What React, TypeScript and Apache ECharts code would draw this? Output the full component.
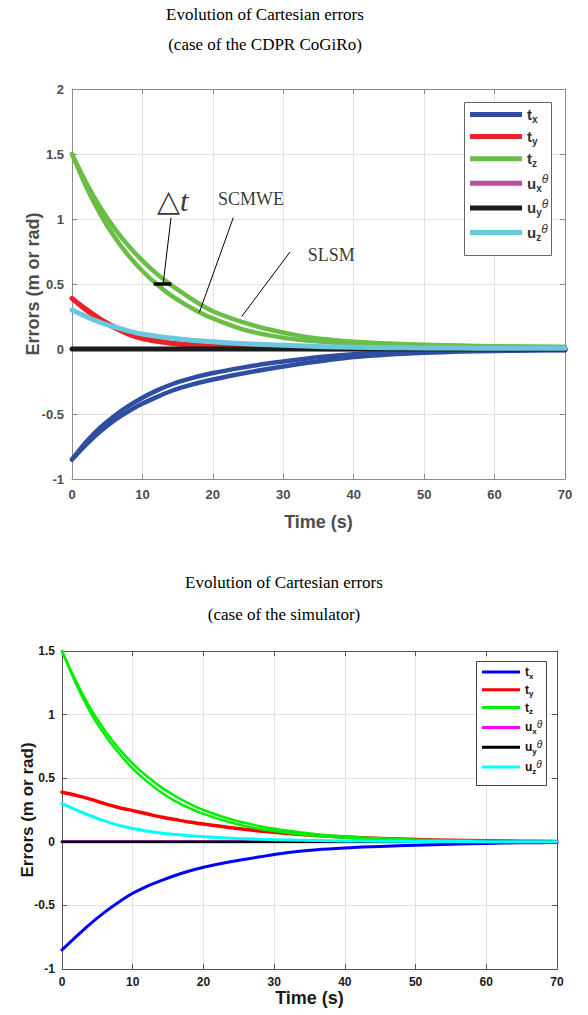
import React, { useEffect, useRef } from 'react';
import * as echarts from 'echarts';

// ---------- data (time samples, seconds) ----------
const T = [0, 2, 4, 6, 8, 10, 12, 14, 16, 18, 20, 24, 28, 32, 36, 40, 45, 50, 55, 60, 65, 70];

// Top chart: CDPR CoGiRo (two runs per variable: SCMWE / SLSM)
const cogiroTxA = [-0.85, -0.715, -0.605, -0.515, -0.44, -0.375, -0.32, -0.275, -0.24, -0.21, -0.185, -0.145, -0.11, -0.082, -0.058, -0.04, -0.026, -0.017, -0.012, -0.01, -0.008, -0.007];
const cogiroTxB = [-0.85, -0.735, -0.635, -0.55, -0.48, -0.42, -0.37, -0.325, -0.29, -0.26, -0.235, -0.19, -0.152, -0.118, -0.088, -0.062, -0.042, -0.029, -0.02, -0.015, -0.011, -0.009];
const cogiroTyA = [0.39, 0.3, 0.225, 0.165, 0.115, 0.08, 0.06, 0.045, 0.035, 0.027, 0.02, 0.012, 0.007, 0.004, 0.002, 0.001, 0, 0, 0, 0, 0, 0];
const cogiroTyB = [0.39, 0.31, 0.235, 0.175, 0.125, 0.09, 0.067, 0.05, 0.038, 0.03, 0.023, 0.014, 0.008, 0.004, 0.002, 0.001, 0, 0, 0, 0, 0, 0];
const cogiroTzA = [1.5, 1.25, 1.04, 0.865, 0.72, 0.6, 0.5, 0.415, 0.345, 0.285, 0.235, 0.155, 0.105, 0.072, 0.053, 0.04, 0.032, 0.026, 0.022, 0.019, 0.017, 0.015];
const cogiroTzB = [1.5, 1.28, 1.09, 0.93, 0.795, 0.68, 0.58, 0.495, 0.42, 0.35, 0.29, 0.21, 0.15, 0.105, 0.075, 0.055, 0.042, 0.033, 0.026, 0.021, 0.018, 0.016];
const cogiroUx = [-0.004, -0.004, -0.004, -0.004, -0.004, -0.004, -0.004, -0.004, -0.004, -0.004, -0.004, -0.004, -0.004, -0.004, -0.004, -0.004, -0.004, -0.004, -0.004, -0.004, -0.004, -0.004];
const cogiroUy = [0, 0, 0, 0, 0, 0, 0, 0, 0, 0, 0, 0, 0, 0, 0, 0, 0, 0, 0, 0, 0, 0];
const cogiroUz = [0.3, 0.25, 0.205, 0.17, 0.14, 0.115, 0.098, 0.085, 0.073, 0.063, 0.055, 0.042, 0.033, 0.025, 0.018, 0.013, 0.01, 0.008, 0.007, 0.006, 0.006, 0.005];

// Bottom chart: simulator
const simTx = [-0.85, -0.745, -0.645, -0.555, -0.475, -0.405, -0.35, -0.305, -0.265, -0.23, -0.2, -0.155, -0.118, -0.085, -0.062, -0.048, -0.036, -0.027, -0.019, -0.013, -0.008, -0.005];
const simTy = [0.39, 0.365, 0.335, 0.3, 0.27, 0.245, 0.22, 0.195, 0.175, 0.155, 0.14, 0.11, 0.085, 0.065, 0.05, 0.038, 0.026, 0.018, 0.012, 0.008, 0.005, 0.003];
const simTzA = [1.5, 1.24, 1.02, 0.845, 0.7, 0.575, 0.475, 0.39, 0.32, 0.265, 0.22, 0.15, 0.1, 0.07, 0.047, 0.032, 0.02, 0.013, 0.009, 0.006, 0.004, 0.003];
const simTzB = [1.5, 1.26, 1.05, 0.88, 0.735, 0.615, 0.515, 0.43, 0.36, 0.3, 0.25, 0.175, 0.123, 0.086, 0.06, 0.042, 0.027, 0.017, 0.011, 0.007, 0.005, 0.003];
const simUx = [0, 0, 0, 0, 0, 0, 0, 0, 0, 0, 0, 0, 0, 0, 0, 0, 0, 0, 0, 0, 0, 0];
const simUy = [0, 0, 0, 0, 0, 0, 0, 0, 0, 0, 0, 0, 0, 0, 0, 0, 0, 0, 0, 0, 0, 0];
const simUz = [0.3, 0.25, 0.205, 0.165, 0.13, 0.105, 0.085, 0.07, 0.058, 0.048, 0.04, 0.028, 0.02, 0.014, 0.01, 0.007, 0.005, 0.003, 0.002, 0.001, 0.001, 0];

const xTicks = { min: 0, max: 70, interval: 10 };
const yTicksTop = { min: -1, max: 2, interval: 0.5 };
const yTicksBottom = { min: -1, max: 1.5, interval: 0.5 };

const legendTop = ['A_tx', 'A_ty', 'A_tz', 'A_ux', 'A_uy', 'A_uz'];
const legendBottom = ['B_tx', 'B_ty', 'B_tz', 'B_ux', 'B_uy', 'B_uz'];
const legendLabels: Record<string, string> = {
  tx: '{b|t}{s|x}',
  ty: '{b|t}{s|y}',
  tz: '{b|t}{s|z}',
  ux: '{b|u}{s|x}{th|θ}',
  uy: '{b|u}{s|y}{th|θ}',
  uz: '{b|u}{s|z}{th|θ}',
};

const SANS = 'Liberation Sans';
const SERIF = 'Liberation Serif';

function line(name: string, vals: number[], color: string, width: number, idx: number) {
  return {
    type: 'line',
    name,
    data: T.map((t, i) => [t, vals[i]]),
    xAxisIndex: idx * 2,
    yAxisIndex: idx * 2,
    showSymbol: false,
    symbol: 'none',
    smooth: 0.3,
    silent: true,
    lineStyle: { color, width, cap: 'round', join: 'round' },
    itemStyle: { color },
    emphasis: { disabled: true },
  };
}

function axesFor(grid: number, yr: { min: number; max: number; interval: number }, top: boolean) {
  const frame = top ? '#8c8c8c' : '#555555';
  const lab = top ? '#4d4d4d' : '#1a1a1a';
  const fs = top ? 13 : 12;
  const common = { type: 'value', gridIndex: grid };
  const tick = { show: true, inside: true, length: 5, lineStyle: { color: frame, width: 1 } };
  const axLine = { show: true, onZero: false, lineStyle: { color: frame, width: 1 } };
  const split = { show: true, lineStyle: { color: '#e2e2e2', width: 1 } };
  const x = [
    {
      ...common, ...xTicks, position: 'bottom',
      axisLine: axLine, axisTick: tick, splitLine: split,
      axisLabel: { color: lab, fontSize: fs, fontWeight: 'bold', fontFamily: SANS, margin: top ? 9 : 7 },
      name: 'Time (s)', nameLocation: 'middle', nameGap: top ? 34 : 20, nameMoveOverlap: false,
      nameTextStyle: { color: lab, fontSize: 18, fontWeight: 'bold', fontFamily: SANS },
    },
    {
      ...common, ...xTicks, position: 'top',
      axisLine: axLine, axisTick: tick, splitLine: { show: false }, axisLabel: { show: false },
    },
  ];
  const y = [
    {
      ...common, ...yr, position: 'left',
      axisLine: axLine, axisTick: tick, splitLine: split,
      axisLabel: { color: lab, fontSize: fs, fontWeight: 'bold', fontFamily: SANS, margin: top ? 8 : 7 },
      name: 'Errors (m or rad)', nameLocation: 'middle', nameGap: top ? 30 : 26, nameMoveOverlap: false,
      nameTextStyle: { color: lab, fontSize: top ? 18 : 17, fontWeight: 'bold', fontFamily: SANS },
    },
    {
      ...common, ...yr, position: 'right',
      axisLine: axLine, axisTick: tick, splitLine: { show: false }, axisLabel: { show: false },
    },
  ];
  return { x, y };
}

export default function App() {
  const ref = useRef<HTMLDivElement>(null);
  useEffect(() => {
    document.body.style.margin = '0';
    const chart = echarts.init(ref.current!, undefined, { renderer: 'svg' });
    const a0 = axesFor(0, yTicksTop, true);
    const a1 = axesFor(1, yTicksBottom, false);

    const topColors = { tx: '#2f4ea2', ty: '#ec2227', tz: '#6abd45', ux: '#b4519c', uy: '#1b1b1b', uz: '#6ac7de' };
    const botColors = { tx: '#0000ff', ty: '#ff0000', tz: '#00ee00', ux: '#ff00ff', uy: '#000000', uz: '#00ffff' };

    const series: any[] = [
      line('A_tx', cogiroTxA, topColors.tx, 4.5, 0),
      line('A_tx', cogiroTxB, topColors.tx, 4.5, 0),
      line('A_ty', cogiroTyA, topColors.ty, 5, 0),
      line('A_ty', cogiroTyB, topColors.ty, 4, 0),
      line('A_tz', cogiroTzA, topColors.tz, 4.5, 0),
      line('A_tz', cogiroTzB, topColors.tz, 4.5, 0),
      line('A_ux', cogiroUx, topColors.ux, 2, 0),
      line('A_uy', cogiroUy, topColors.uy, 5, 0),
      line('A_uz', cogiroUz, topColors.uz, 5, 0),
      line('B_tx', simTx, botColors.tx, 3, 1),
      line('B_ty', simTy, botColors.ty, 3.5, 1),
      line('B_tz', simTzA, botColors.tz, 2.5, 1),
      line('B_tz', simTzB, botColors.tz, 2.5, 1),
      line('B_ux', simUx, botColors.ux, 3, 1),
      line('B_uy', simUy, botColors.uy, 2.5, 1),
      line('B_uz', simUz, botColors.uz, 3, 1),
      {
        type: 'scatter',
        name: 'annotations',
        xAxisIndex: 0,
        yAxisIndex: 0,
        symbolSize: 0,
        silent: true,
        z: 5,
        data: [
          { value: [14.3, 1.14], label: { formatter: '{tri|△}{it|t}' } },
          { value: [25.4, 1.155], label: { formatter: 'SCMWE' } },
          { value: [36.8, 0.72], label: { formatter: 'SLSM' } },
        ],
        label: {
          show: true,
          position: 'inside',
          color: '#000',
          fontFamily: SERIF,
          fontSize: 18,
          rich: {
            tri: { fontSize: 30, fontFamily: 'DejaVu Sans', color: '#000', fontWeight: 'lighter' },
            it: { fontSize: 30, fontFamily: SERIF, fontStyle: 'italic', color: '#000' },
          },
        },
        markLine: {
          silent: true,
          symbol: ['none', 'none'],
          label: { show: false },
          lineStyle: { color: '#000', width: 1, type: 'solid' },
          data: [
            [{ coord: [14.06, 1.01] }, { coord: [12.96, 0.51] }],
            [{ coord: [22.9, 1.01] }, { coord: [18.07, 0.28] }],
            [{ coord: [30.95, 0.746] }, { coord: [24.1, 0.25] }],
            [{ coord: [11.6, 0.5], lineStyle: { width: 3.5 } }, { coord: [14.1, 0.5] }],
          ],
        },
      },
    ];

    const mkLegend = (data: string[], left: number, top: number, iw: number, ih: number, lh: number, gap: number, big: boolean) => ({
      data,
      orient: 'vertical',
      left,
      top,
      itemWidth: iw,
      itemHeight: ih,
      itemGap: gap,
      icon: 'rect',
      selectedMode: false,
      padding: 0,
      formatter: (n: string) => legendLabels[n.slice(2)],
      textStyle: {
        rich: {
          b: { fontSize: big ? 15 : 12, fontWeight: 'bold', fontFamily: SANS, color: big ? '#333' : '#111', lineHeight: lh },
          s: { fontSize: big ? 10 : 8, fontWeight: 'bold', fontFamily: SANS, color: big ? '#333' : '#111', verticalAlign: 'bottom', lineHeight: lh },
          th: { fontSize: big ? 12 : 10, fontStyle: 'italic', fontFamily: SANS, color: big ? '#333' : '#111', verticalAlign: 'top', lineHeight: lh },
        },
      },
    });

    const titleStyle = (text: string, x: number, y: number) => ({
      type: 'text',
      x,
      y,
      silent: true,
      style: { text, fill: '#000', font: `17px "${SERIF}"`, textAlign: 'center', textVerticalAlign: 'middle' },
    });

    chart.setOption({
      animation: false,
      backgroundColor: '#ffffff',
      grid: [
        { left: 72, top: 89, width: 493, height: 390, containLabel: false },
        { left: 62, top: 651, width: 495, height: 318, containLabel: false },
      ],
      xAxis: [...a0.x, ...a1.x],
      yAxis: [...a0.y, ...a1.y],
      legend: [
        mkLegend(legendTop, 470, 107, 52, 5, 20, 4.6, true),
        mkLegend(legendBottom, 482, 666, 38, 3, 16, 3.8, false),
      ],
      graphic: [
        titleStyle('Evolution of Cartesian errors', 265, 14),
        titleStyle('(case of the CDPR CoGiRo)', 265, 44),
        titleStyle('Evolution of Cartesian errors', 284, 582),
        titleStyle('(case of the simulator)', 284, 614),
        { type: 'rect', shape: { x: 464.5, y: 102.5, width: 87, height: 153 }, style: { fill: '#fff', stroke: '#666', lineWidth: 1 }, z: 3, silent: true },
        { type: 'rect', shape: { x: 476.5, y: 661.5, width: 70, height: 124 }, style: { fill: '#fff', stroke: '#444', lineWidth: 1 }, z: 3, silent: true },
      ],
      series,
    });
    return () => chart.dispose();
  }, []);
  return <div ref={ref} style={{ width: 588, height: 1015 }} />;
}
